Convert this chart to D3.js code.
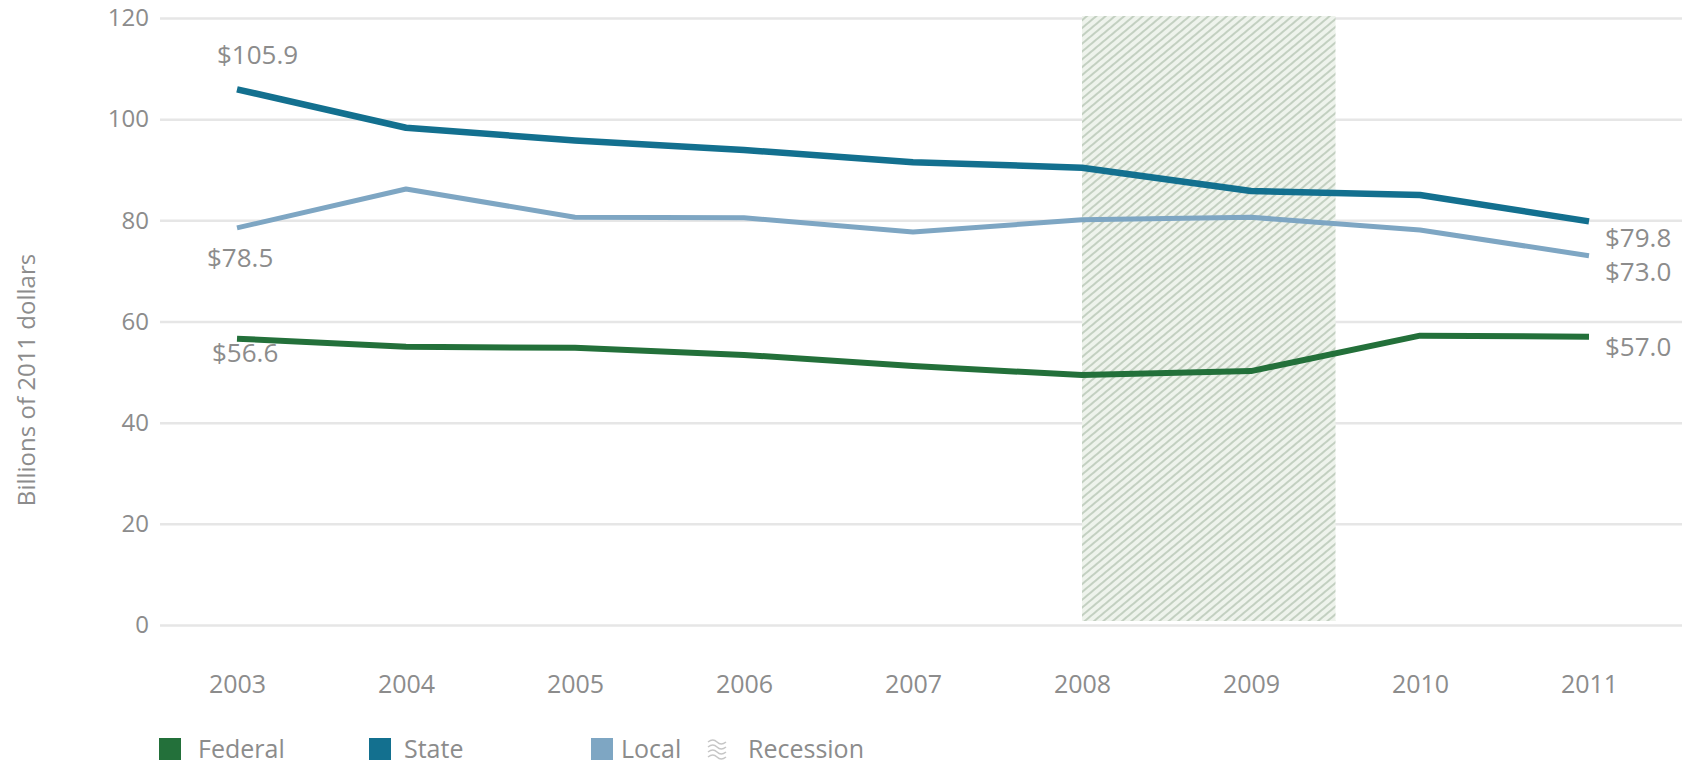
<!DOCTYPE html>
<html>
<head>
<meta charset="utf-8">
<script src="https://cdn.jsdelivr.net/npm/d3@7"></script>
<style>
  html, body { margin: 0; padding: 0; background: #ffffff; }
  svg { display: block; }
  text { font-family: "Open Sans", "DejaVu Sans", sans-serif; fill: #8c8c8c; }
</style>
</head>
<body>
<svg id="chart" width="1685" height="765"></svg>
<script>
// ---- data ----
const years = [2003, 2004, 2005, 2006, 2007, 2008, 2009, 2010, 2011];
const federal = [56.6, 55.0, 54.8, 53.4, 51.2, 49.4, 50.2, 57.2, 57.0];
const state   = [105.9, 98.3, 95.8, 93.9, 91.5, 90.4, 85.8, 85.0, 79.8];
const local   = [78.5, 86.2, 80.6, 80.5, 77.7, 80.1, 80.6, 78.1, 73.0];
const yTicks = [0, 20, 40, 60, 80, 100, 120];
const recessionSpan = [2008, 2009.5];
const legendLabels = ["Federal", "State", "Local", "Recession"];
const yLabel = "Billions of 2011 dollars";

// ---- styles ----
const colors = { Federal: "#23703a", State: "#13708f", Local: "#7ea6c3" };
const widths = { Federal: 6, State: 6.5, Local: 5 };

const svg = d3.select("#chart");

const x = d3.scaleLinear().domain([2003, 2011]).range([237, 1589]);
const y = d3.scaleLinear().domain([0, 120]).range([625, 18]);
const gridLeft = 160, gridRight = 1682;

// hatch pattern
const defs = svg.append("defs");
const pat = defs.append("pattern")
  .attr("id", "hatch").attr("patternUnits", "userSpaceOnUse")
  .attr("width", 6).attr("height", 6)
  .attr("patternTransform", "rotate(-40)");
pat.append("rect").attr("width", 6).attr("height", 6).attr("fill", "#eef3ec");
pat.append("line").attr("x1", 0).attr("y1", 3).attr("x2", 6).attr("y2", 3)
  .attr("stroke", "#bccab9").attr("stroke-width", 1.7);

// y axis with gridlines
const yAxis = svg.append("g")
  .attr("transform", `translate(${gridLeft},0)`)
  .call(d3.axisLeft(y).tickValues(yTicks).tickSize(-(gridRight - gridLeft)).tickPadding(11));
yAxis.select(".domain").remove();
yAxis.selectAll(".tick line").attr("stroke", "#e6e6e6").attr("stroke-width", 2.5);
yAxis.selectAll(".tick text").attr("font-size", 24).attr("fill", "#8c8c8c")
  .style("font-family", '"Open Sans", sans-serif');

// recession shading
svg.append("rect")
  .attr("x", x(recessionSpan[0]))
  .attr("y", y(120) - 2)
  .attr("width", x(recessionSpan[1]) - x(recessionSpan[0]))
  .attr("height", y(0) - y(120) - 2)
  .attr("fill", "url(#hatch)");

// x axis labels
const xAxis = svg.append("g")
  .attr("transform", "translate(0,675)")
  .call(d3.axisBottom(x).tickValues(years).tickFormat(d3.format("d")).tickSize(0).tickPadding(0));
xAxis.select(".domain").remove();
xAxis.selectAll(".tick text").attr("font-size", 25).attr("fill", "#8c8c8c")
  .style("font-family", '"Open Sans", sans-serif');

// y axis title
svg.append("text")
  .attr("transform", "translate(35,380) rotate(-90)")
  .attr("text-anchor", "middle")
  .attr("font-size", 24)
  .text(yLabel);

// lines
const seriesData = { Federal: federal, State: state, Local: local };
const line = d3.line().x((d, i) => x(years[i])).y(d => y(d));
["Local", "Federal", "State"].forEach(name => {
  svg.append("path")
    .datum(seriesData[name])
    .attr("d", line)
    .attr("fill", "none")
    .attr("stroke", colors[name])
    .attr("stroke-width", widths[name])
    .attr("stroke-linejoin", "round")
    .attr("stroke-linecap", "butt");
});

// end labels
const fmt = v => "$" + d3.format(".1f")(v);
const first = 0, last = years.length - 1;
const endLabels = [
  { v: state[first],   x: x(years[first]) - 20, y: y(state[first]) - 25 },
  { v: local[first],   x: x(years[first]) - 30, y: y(local[first]) + 39 },
  { v: federal[first], x: x(years[first]) - 25, y: y(federal[first]) + 23 },
  { v: state[last],    x: x(years[last]) + 16,  y: y(state[last]) + 26 },
  { v: local[last],    x: x(years[last]) + 16,  y: y(local[last]) + 25 },
  { v: federal[last],  x: x(years[last]) + 16,  y: y(federal[last]) + 19 }
];
svg.selectAll("text.endlabel").data(endLabels).enter().append("text")
  .attr("class", "endlabel")
  .attr("x", d => d.x).attr("y", d => d.y)
  .attr("font-size", 26)
  .text(d => fmt(d.v));

// legend
const legY = 749;
const legItems = [
  { sx: 159, tx: 198, type: "Federal" },
  { sx: 369, tx: 404, type: "State" },
  { sx: 591, tx: 621, type: "Local" },
  { sx: 706, tx: 748, type: "Recession" }
];
legItems.forEach((it, i) => {
  if (it.type === "Recession") {
    const g = svg.append("g").attr("transform", `translate(${it.sx},${legY - 11})`);
    for (let k = 0; k < 4; k++) {
      g.append("path")
        .attr("d", `M2,${4 + k * 5} q5,-4 9,0 t9,0`)
        .attr("fill", "none").attr("stroke", "#c6c6c6").attr("stroke-width", 1.5);
    }
  } else {
    svg.append("rect")
      .attr("x", it.sx).attr("y", legY - 11)
      .attr("width", 22).attr("height", 22)
      .attr("fill", colors[it.type]);
  }
  svg.append("text")
    .attr("x", it.tx).attr("y", legY + 9)
    .attr("font-size", 25)
    .text(legendLabels[i]);
});
</script>
</body>
</html>
